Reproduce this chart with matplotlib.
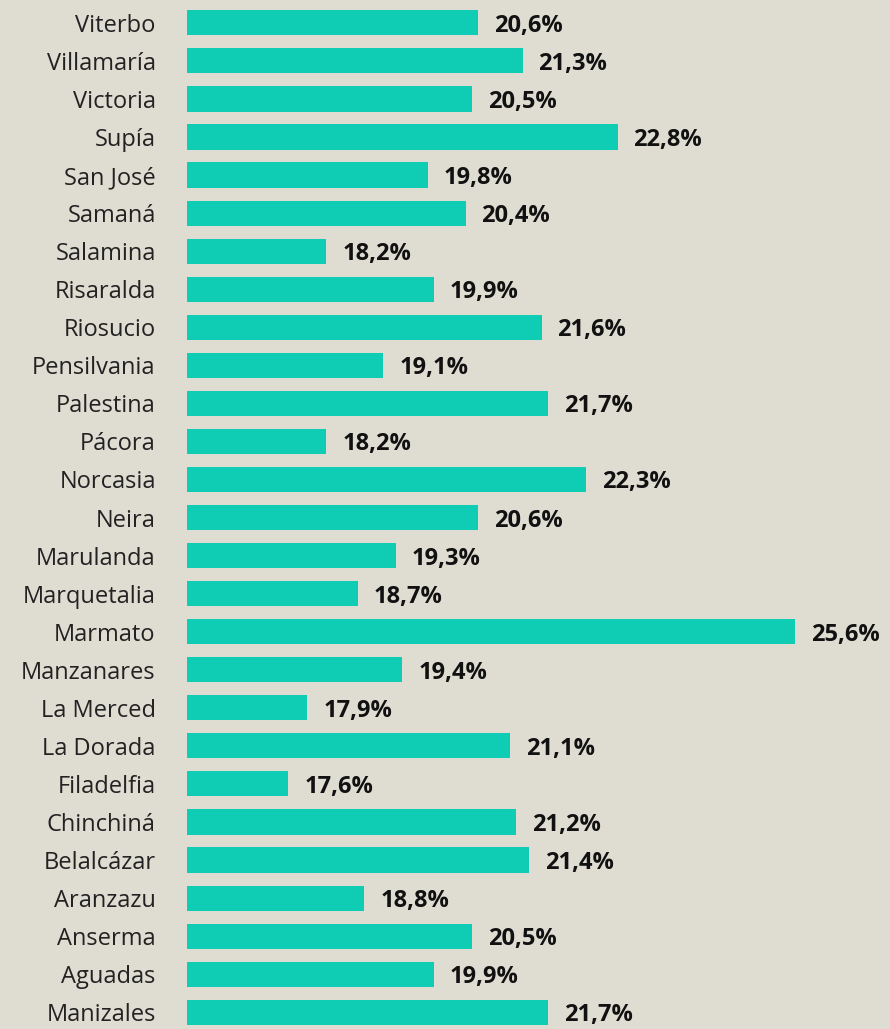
import matplotlib
matplotlib.use("Agg")
import matplotlib.pyplot as plt

categories = ["Viterbo", "Villamaría", "Victoria", "Supía", "San José", "Samaná",
              "Salamina", "Risaralda", "Riosucio", "Pensilvania", "Palestina", "Pácora",
              "Norcasia", "Neira", "Marulanda", "Marquetalia", "Marmato", "Manzanares",
              "La Merced", "La Dorada", "Filadelfia", "Chinchiná", "Belalcázar",
              "Aranzazu", "Anserma", "Aguadas", "Manizales"]
values = [20.6, 21.3, 20.5, 22.8, 19.8, 20.4, 18.2, 19.9, 21.6, 19.1, 21.7, 18.2,
          22.3, 20.6, 19.3, 18.7, 25.6, 19.4, 17.9, 21.1, 17.6, 21.2, 21.4,
          18.8, 20.5, 19.9, 21.7]
labels = [f"{v:.1f}%".replace(".", ",") for v in values]

plt.rcParams['font.family'] = ['Open Sans', 'DejaVu Sans']

bg = "#dfdcd2"
bar_color = "#0fcdb4"
fig = plt.figure(figsize=(8.90, 10.29), dpi=100, facecolor=bg)
ax = fig.add_axes([187/890, 0, 1 - 187/890, 1])
ax.set_facecolor(bg)

n = len(categories)
ypos = [n - 1 - i for i in range(n)]
x0 = 16.0
ax.barh(ypos, [v - x0 for v in values], left=x0, height=0.66, color=bar_color)
for y, v, lab in zip(ypos, values, labels):
    ax.text(v + 0.25, y, lab, va="center_baseline", ha="left", fontsize=17,
            fontweight="bold", color="#111111")

ax.set_xlim(x0, x0 + (890 - 187) / 63.33)
ax.set_ylim(-0.44, 26.6)
ax.set_yticks(ypos)
ax.set_yticklabels(categories, fontsize=17, color="#222222")
ax.tick_params(axis="y", length=0, pad=22.5)
ax.set_xticks([])
for s in ax.spines.values():
    s.set_visible(False)

fig.savefig("out.png", dpi=100, facecolor=bg)
